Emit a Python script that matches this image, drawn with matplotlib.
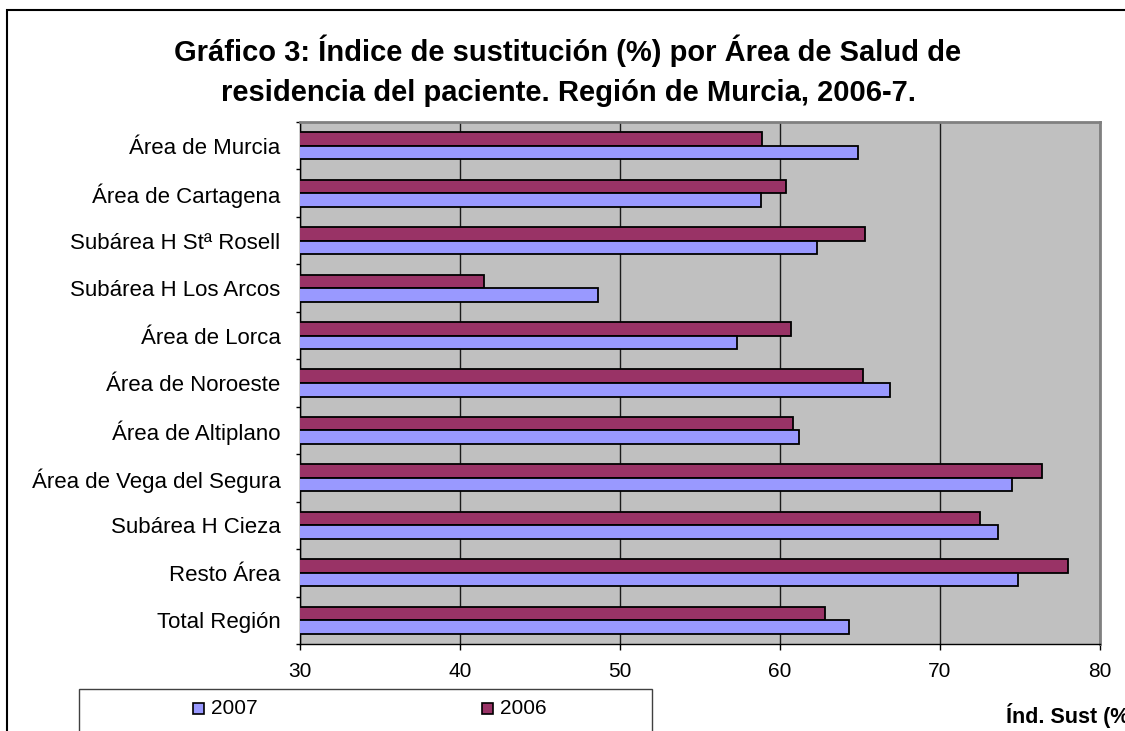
import numpy as np
import matplotlib.pyplot as plt
from matplotlib.patches import Rectangle

plt.rcParams['font.family'] = ['Liberation Sans', 'DejaVu Sans']

areas = ['Área de Murcia', 'Área de Cartagena', 'Subárea H Stª Rosell', 'Subárea H Los Arcos',
         'Área de Lorca', 'Área de Noroeste', 'Área de Altiplano', 'Área de Vega del Segura',
         'Subárea H Cieza', 'Resto Área', 'Total Región']
ind_2006 = [58.9, 60.4, 65.3, 41.5, 60.7, 65.2, 60.8, 76.4, 72.5, 78.0, 62.8]
ind_2007 = [64.9, 58.8, 62.3, 48.6, 57.3, 66.9, 61.2, 74.5, 73.6, 74.9, 64.3]
x_ticks = [30, 40, 50, 60, 70, 80]
years = ['2007', '2006']
colors = {'2007': '#9999FF', '2006': '#993366'}

W, H = 1125, 731
fig = plt.figure(figsize=(W / 100, H / 100), dpi=100)


def box(x0, y0, w, h):
    # pixel box (top-left origin) -> figure fraction
    return [x0 / W, 1 - (y0 + h) / H, w / W, h / H]


def fx(x):
    return x / W


def fy(y):
    return 1 - y / H


# outer chart border (runs off the right and bottom edges)
fig.add_artist(Rectangle((fx(7), fy(745)), fx(1140 - 7), fy(10) - fy(745), transform=fig.transFigure,
                         fill=False, edgecolor='black', linewidth=1.5))

fig.text(fx(568), fy(61), 'Gráfico 3: Índice de sustitución (%) por Área de Salud de',
         ha='center', va='baseline', fontsize=21, fontweight='bold')
fig.text(fx(568), fy(101), 'residencia del paciente. Región de Murcia, 2006-7.',
         ha='center', va='baseline', fontsize=21, fontweight='bold')

ax = fig.add_axes(box(300, 122, 800, 522))
ax.set_facecolor('#C0C0C0')

y = np.arange(len(areas))
bh = 1 / 3.5
ax.barh(y - bh / 2, ind_2006, height=bh, color=colors['2006'], edgecolor='black', linewidth=1.3, zorder=3)
ax.barh(y + bh / 2, ind_2007, height=bh, color=colors['2007'], edgecolor='black', linewidth=1.3, zorder=3)

ax.set_xlim(30, 80)
ax.set_ylim(len(areas) - 0.5, -0.5)
ax.set_xticks(x_ticks)
ax.set_xticklabels([str(v) for v in x_ticks], fontsize=15)
ax.xaxis.grid(True, color='#1a1a1a', linewidth=1)
ax.set_axisbelow(True)
ax.tick_params(axis='x', direction='out', length=4, width=1, pad=9)

# category ticks between groups, labels centred on groups
ax.set_yticks(np.arange(len(areas) + 1) - 0.5)
ax.set_yticklabels([])
ax.set_yticks(y, minor=True)
ax.set_yticklabels(areas, minor=True, fontsize=16)
ax.tick_params(axis='y', which='major', direction='out', length=3, width=1)
ax.tick_params(axis='y', which='minor', length=0, pad=14)

for s in ['top', 'right']:
    ax.spines[s].set_color('#808080')
    ax.spines[s].set_linewidth(2)
for s in ['left', 'bottom']:
    ax.spines[s].set_color('black')
    ax.spines[s].set_linewidth(1)

# legend box (runs off the bottom edge)
fig.add_artist(Rectangle((fx(79), fy(745)), fx(652 - 79), fy(689) - fy(745), transform=fig.transFigure,
                         fill=False, edgecolor='#404040', linewidth=1))
for yr, xm in zip(years, [193, 482]):
    fig.add_artist(Rectangle((fx(xm), fy(714)), fx(11), fy(703) - fy(714), transform=fig.transFigure,
                             facecolor=colors[yr], edgecolor='black', linewidth=1.2))
    fig.text(fx(xm + 18), fy(709), yr, ha='left', va='center', fontsize=15)

# axis title, cut at the right edge as in the source chart
fig.text(fx(1006), fy(715), 'Índ. Sust (%)', ha='left', va='center', fontsize=15.5, fontweight='bold')

fig.savefig('out.png', dpi=100)
